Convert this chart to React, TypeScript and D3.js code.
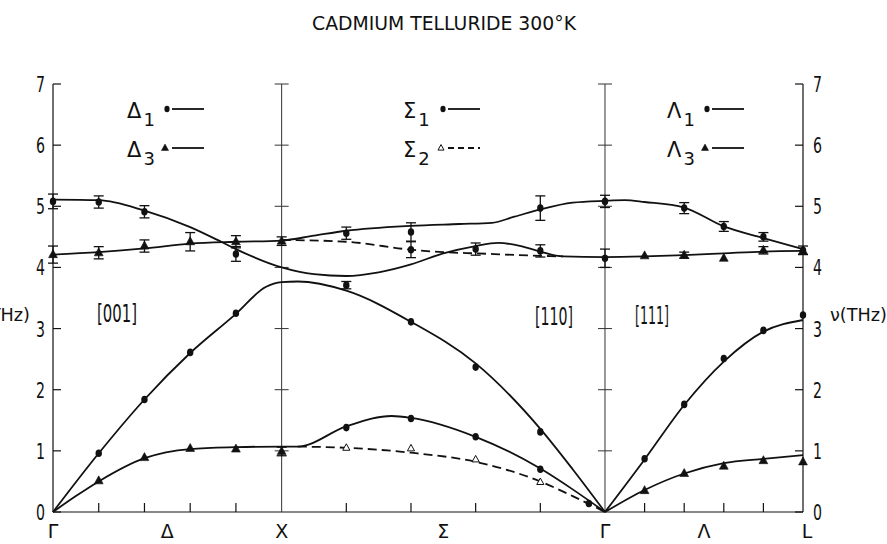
import React from "react";
import * as d3 from "d3";

// [segment index, fraction along the segment, frequency in THz]
type Knot = [number, number, number];
// [segment index, fraction along the segment, frequency in THz, error half-width]
type Obs = [number, number, number, number];

const title = "CADMIUM TELLURIDE 300°K";
const symmetryPoints = ["Γ", "X", "Γ", "L"];
const directionNames = ["Δ", "Σ", "Λ"];
const directionIndices = ["[001]", "[110]", "[111]"];
// reduced path lengths Γ→X, X→Γ (along [110]), Γ→L
const segmentLengths = [1, Math.SQRT2, Math.sqrt(3) / 2];
const freqTicks = [0, 1, 2, 3, 4, 5, 6, 7];
const stepFractions = [0.2, 0.4, 0.6, 0.8];
const axisLabel = "ν(THz)";

// ---- fitted dispersion curves ----
const curveLA: Knot[] = [
  [0, 0, 0], [0, 0.2, 0.96], [0, 0.4, 1.84], [0, 0.6, 2.6], [0, 0.8, 3.24], [0, 0.93, 3.68], [0, 1, 3.76],
  [1, 0.05, 3.77], [1, 0.2, 3.62], [1, 0.4, 3.11], [1, 0.6, 2.43], [1, 0.8, 1.36], [1, 0.9, 0.7], [1, 1, 0],
];
const curveTA: Knot[] = [
  [0, 0, 0], [0, 0.1, 0.26], [0, 0.2, 0.5], [0, 0.4, 0.88], [0, 0.6, 1.03], [0, 0.8, 1.06], [0, 1, 1.07],
  [1, 0.05, 1.07], [1, 0.2, 1.4], [1, 0.34, 1.57], [1, 0.4, 1.54], [1, 0.6, 1.23], [1, 0.8, 0.71], [1, 0.9, 0.37], [1, 1, 0],
];
const curveSigma2TA: Knot[] = [
  [1, 0.05, 1.07], [1, 0.2, 1.05], [1, 0.4, 0.97], [1, 0.6, 0.82], [1, 0.8, 0.5], [1, 0.9, 0.26], [1, 1, 0],
];
const curveLambdaLA: Knot[] = [
  [2, 0, 0], [2, 0.2, 0.86], [2, 0.4, 1.75], [2, 0.6, 2.46], [2, 0.8, 2.95], [2, 1, 3.14],
];
const curveLambdaTA: Knot[] = [
  [2, 0, 0], [2, 0.2, 0.36], [2, 0.4, 0.63], [2, 0.6, 0.8], [2, 0.8, 0.87], [2, 1, 0.93],
];
const curveOpticLower: Knot[] = [
  [0, 0, 5.11], [0, 0.2, 5.1], [0, 0.4, 4.93], [0, 0.6, 4.66], [0, 0.73, 4.43], [0, 0.8, 4.3], [0, 1, 4.0],
  [1, 0.1, 3.89], [1, 0.2, 3.86], [1, 0.3, 3.92], [1, 0.4, 4.05], [1, 0.5, 4.23], [1, 0.6, 4.35], [1, 0.67, 4.4],
  [1, 0.74, 4.35], [1, 0.8, 4.26], [1, 0.87, 4.18], [1, 1, 4.17],
  [2, 0.2, 4.18], [2, 0.4, 4.2], [2, 0.6, 4.23], [2, 0.8, 4.26], [2, 1, 4.27],
];
const curveOpticUpper: Knot[] = [
  [0, 0, 4.21], [0, 0.2, 4.25], [0, 0.4, 4.31], [0, 0.6, 4.39], [0, 0.8, 4.42], [0, 1, 4.44],
  [1, 0.1, 4.52], [1, 0.2, 4.6], [1, 0.4, 4.68], [1, 0.55, 4.71], [1, 0.65, 4.73], [1, 0.72, 4.83],
  [1, 0.8, 4.95], [1, 0.9, 5.06], [1, 1, 5.09],
  [2, 0.1, 5.1], [2, 0.2, 5.07], [2, 0.4, 4.98], [2, 0.6, 4.67], [2, 0.8, 4.48], [2, 1, 4.3],
];
const curveSigma2TO: Knot[] = [
  [1, 0, 4.45], [1, 0.2, 4.42], [1, 0.4, 4.29], [1, 0.5, 4.25], [1, 0.6, 4.23], [1, 0.8, 4.19], [1, 0.87, 4.18],
];

// ---- measured frequencies ----
const delta1Points: Obs[] = [
  [0, 0.2, 0.96, 0], [0, 0.4, 1.84, 0], [0, 0.6, 2.61, 0], [0, 0.8, 3.25, 0],
  [0, 0, 5.08, 0.12], [0, 0.2, 5.07, 0.1], [0, 0.4, 4.91, 0.1], [0, 0.8, 4.22, 0.12],
];
const delta3Points: Obs[] = [
  [0, 0.2, 0.51, 0], [0, 0.4, 0.89, 0], [0, 0.6, 1.04, 0], [0, 0.8, 1.03, 0], [0, 1, 0.99, 0.07],
  [0, 0, 4.21, 0.14], [0, 0.2, 4.24, 0.1], [0, 0.4, 4.35, 0.1], [0, 0.6, 4.42, 0.15], [0, 0.8, 4.42, 0.1], [0, 1, 4.43, 0.07],
];
const sigma1Points: Obs[] = [
  [1, 0.2, 3.71, 0.06], [1, 0.4, 3.11, 0], [1, 0.6, 2.37, 0], [1, 0.8, 1.31, 0],
  [1, 0.2, 1.38, 0], [1, 0.4, 1.53, 0], [1, 0.6, 1.23, 0], [1, 0.8, 0.7, 0], [1, 0.95, 0.14, 0],
  [1, 0.2, 4.56, 0.1], [1, 0.4, 4.58, 0.15], [1, 0.4, 4.29, 0.13], [1, 0.6, 4.3, 0.1],
  [1, 0.8, 4.97, 0.2], [1, 0.8, 4.27, 0.1], [1, 1, 5.08, 0.1], [1, 1, 4.15, 0.15],
];
const sigma2Points: Obs[] = [
  [1, 0.2, 1.05, 0], [1, 0.4, 1.04, 0], [1, 0.6, 0.86, 0], [1, 0.8, 0.49, 0],
];
const lambda1Points: Obs[] = [
  [2, 0.2, 0.87, 0], [2, 0.4, 1.76, 0], [2, 0.6, 2.51, 0], [2, 0.8, 2.97, 0], [2, 1, 3.22, 0],
  [2, 0.4, 4.97, 0.09], [2, 0.6, 4.67, 0.08], [2, 0.8, 4.5, 0.07], [2, 1, 4.28, 0.07],
];
const lambda3Points: Obs[] = [
  [2, 0.2, 0.35, 0], [2, 0.4, 0.63, 0], [2, 0.6, 0.75, 0], [2, 0.8, 0.84, 0], [2, 1, 0.82, 0],
  [2, 0.2, 4.19, 0], [2, 0.4, 4.2, 0.05], [2, 0.6, 4.15, 0], [2, 0.8, 4.28, 0.06], [2, 1, 4.27, 0],
];

const legendSubscripts = [["1", "3"], ["1", "2"], ["1", "3"]];

const FONT = "'DejaVu Sans', 'Liberation Sans', sans-serif";

export default function App() {
  const W = 887;
  const H = 544;
  const starts = [0, ...Array.from(d3.cumsum(segmentLengths))];
  const total = starts[3];
  const x = d3.scaleLinear().domain([0, total]).range([53, 803]);
  const y = d3.scaleLinear().domain([0, 7]).range([512, 84]);
  const px = (seg: number, f: number) => x(starts[seg] + f * segmentLengths[seg]);

  const line = d3
    .line<Knot>()
    .x((d) => px(d[0], d[1]))
    .y((d) => y(d[2]))
    .curve(d3.curveMonotoneX);

  const ink = "#111";
  const x0 = x(0);
  const xEnd = x(total);
  const y0 = y(0);
  const yTop = y(7);

  const tri = (cx: number, cy: number, s: number) =>
    `M${cx},${cy - s * 0.62} L${cx + s * 0.55},${cy + s * 0.38} L${cx - s * 0.55},${cy + s * 0.38} Z`;

  const errBar = (cx: number, v: number, e: number, key: string) =>
    e > 0 ? (
      <g key={key} stroke={ink} strokeWidth={1.3}>
        <line x1={cx} x2={cx} y1={y(v + e)} y2={y(v - e)} />
        <line x1={cx - 5} x2={cx + 5} y1={y(v + e)} y2={y(v + e)} />
        <line x1={cx - 5} x2={cx + 5} y1={y(v - e)} y2={y(v - e)} />
      </g>
    ) : null;

  const circles = (pts: Obs[], name: string) =>
    pts.map((d, i) => {
      const cx = px(d[0], d[1]);
      return (
        <g key={`${name}${i}`}>
          {errBar(cx, d[2], d[3], "e")}
          <ellipse cx={cx} cy={y(d[2])} rx={3.2} ry={3.8} fill={ink} />
        </g>
      );
    });

  const triangles = (pts: Obs[], name: string, open = false) =>
    pts.map((d, i) => {
      const cx = px(d[0], d[1]);
      return (
        <g key={`${name}${i}`}>
          {errBar(cx, d[2], d[3], "e")}
          <path
            d={tri(cx, y(d[2]), open ? 6.5 : 8)}
            fill={open ? "#fff" : ink}
            stroke={ink}
            strokeWidth={open ? 1 : 0.6}
          />
        </g>
      );
    });

  const legendX = [127, 403, 667];
  const legendRows = [109, 148];

  return (
    <svg
      width={W}
      height={H}
      viewBox={`0 0 ${W} ${H}`}
      style={{ position: "absolute", left: 0, top: 0, background: "#fff" }}
      fontFamily={FONT}
    >
      <rect x={0} y={0} width={W} height={H} fill="#fff" />

      <text x={444} y={30} textAnchor="middle" fontSize={19} fill={ink} textLength={264} lengthAdjust="spacingAndGlyphs">
        {title}
      </text>

      {/* frame: left and right frequency axes, baseline */}
      <g stroke={ink} strokeWidth={1.2} fill="none">
        <line x1={x0} x2={x0} y1={y0} y2={yTop} />
        <line x1={xEnd} x2={xEnd} y1={y0} y2={yTop} />
        <line x1={x0} x2={xEnd} y1={y0} y2={y0} />
        {freqTicks.map((t) => (
          <g key={`t${t}`}>
            <line x1={x0} x2={x0 + 8} y1={y(t)} y2={y(t)} />
            <line x1={xEnd - 8} x2={xEnd} y1={y(t)} y2={y(t)} />
          </g>
        ))}
        {[0, 1, 2].map((s) =>
          stepFractions.map((f) => (
            <line key={`b${s}${f}`} x1={px(s, f)} x2={px(s, f)} y1={y0} y2={y0 - 9} />
          ))
        )}
      </g>

      {/* vertical lines at the zone-boundary symmetry points */}
      <g stroke="#333" strokeWidth={1} fill="none">
        {[1, 2].map((s) => (
          <g key={`v${s}`}>
            <line x1={px(s, 0)} x2={px(s, 0)} y1={y0} y2={yTop} />
            {freqTicks.slice(1).map((t) => (
              <line key={t} x1={px(s, 0) - 7} x2={px(s, 0) + 7} y1={y(t)} y2={y(t)} />
            ))}
          </g>
        ))}
      </g>

      {/* tick labels */}
      <g fill={ink} fontSize={22}>
        {freqTicks.map((t) => (
          <g key={`l${t}`}>
            <text x={45} y={y(t) + 8} textAnchor="end" textLength={9} lengthAdjust="spacingAndGlyphs">
              {t}
            </text>
            <text x={813} y={y(t) + 8} textAnchor="start" textLength={9} lengthAdjust="spacingAndGlyphs">
              {t}
            </text>
          </g>
        ))}
      </g>
      <g fill={ink} fontSize={19} textAnchor="middle">
        {symmetryPoints.map((p, i) => (
          <text key={`p${i}`} x={i === 3 ? xEnd + 4 : x(starts[i])} y={538}>
            {p}
          </text>
        ))}
        {directionNames.map((n, i) => (
          <text key={`n${i}`} x={px(i, 0.5)} y={538}>
            {n}
          </text>
        ))}
      </g>

      {/* frequency axis titles */}
      <text x={30} y={321} textAnchor="end" fontSize={18} fill={ink} textLength={57} lengthAdjust="spacingAndGlyphs">
        {axisLabel}
      </text>
      <text x={830} y={321} textAnchor="start" fontSize={18} fill={ink} textLength={57} lengthAdjust="spacingAndGlyphs">
        {axisLabel}
      </text>

      {/* crystal direction labels */}
      <g fill={ink} fontSize={24}>
        <text x={97} y={322} textLength={40} lengthAdjust="spacingAndGlyphs">{directionIndices[0]}</text>
        <text x={535} y={325} textLength={38} lengthAdjust="spacingAndGlyphs">{directionIndices[1]}</text>
        <text x={635} y={324} textLength={34} lengthAdjust="spacingAndGlyphs">{directionIndices[2]}</text>
      </g>

      {/* dispersion curves */}
      <g fill="none" stroke={ink} strokeWidth={1.8}>
        <path d={line(curveLA) ?? ""} />
        <path d={line(curveTA) ?? ""} />
        <path d={line(curveLambdaLA) ?? ""} />
        <path d={line(curveLambdaTA) ?? ""} />
        <path d={line(curveOpticLower) ?? ""} />
        <path d={line(curveOpticUpper) ?? ""} />
        <path d={line(curveSigma2TA) ?? ""} strokeDasharray="9,5" />
        <path d={line(curveSigma2TO) ?? ""} strokeDasharray="9,5" />
      </g>

      {/* measured points */}
      {circles(delta1Points, "d1")}
      {triangles(delta3Points, "d3")}
      {circles(sigma1Points, "s1")}
      {triangles(sigma2Points, "s2", true)}
      {circles(lambda1Points, "l1")}
      {triangles(lambda3Points, "l3")}

      {/* legends */}
      {directionNames.map((n, i) => (
        <g key={`lg${i}`} fill={ink}>
          {legendRows.map((ry, r) => {
            const lx = legendX[i];
            const dashed = i === 1 && r === 1;
            const isCircle = r === 0;
            return (
              <g key={r}>
                <text x={lx} y={ry + 9} fontSize={21}>
                  {n}
                  <tspan fontSize={18} dx={2} dy={8}>
                    {legendSubscripts[i][r]}
                  </tspan>
                </text>
                {isCircle ? (
                  <ellipse cx={lx + 40} cy={ry} rx={2.6} ry={3.2} fill={ink} />
                ) : (
                  <path
                    d={tri(lx + 38, ry, dashed ? 5.5 : 6.5)}
                    fill={dashed ? "#fff" : ink}
                    stroke={ink}
                    strokeWidth={dashed ? 1 : 0.5}
                  />
                )}
                <line
                  x1={lx + 45}
                  x2={lx + 77}
                  y1={ry}
                  y2={ry}
                  stroke={ink}
                  strokeWidth={1.8}
                  strokeDasharray={dashed ? "6,4" : undefined}
                />
              </g>
            );
          })}
        </g>
      ))}
    </svg>
  );
}
